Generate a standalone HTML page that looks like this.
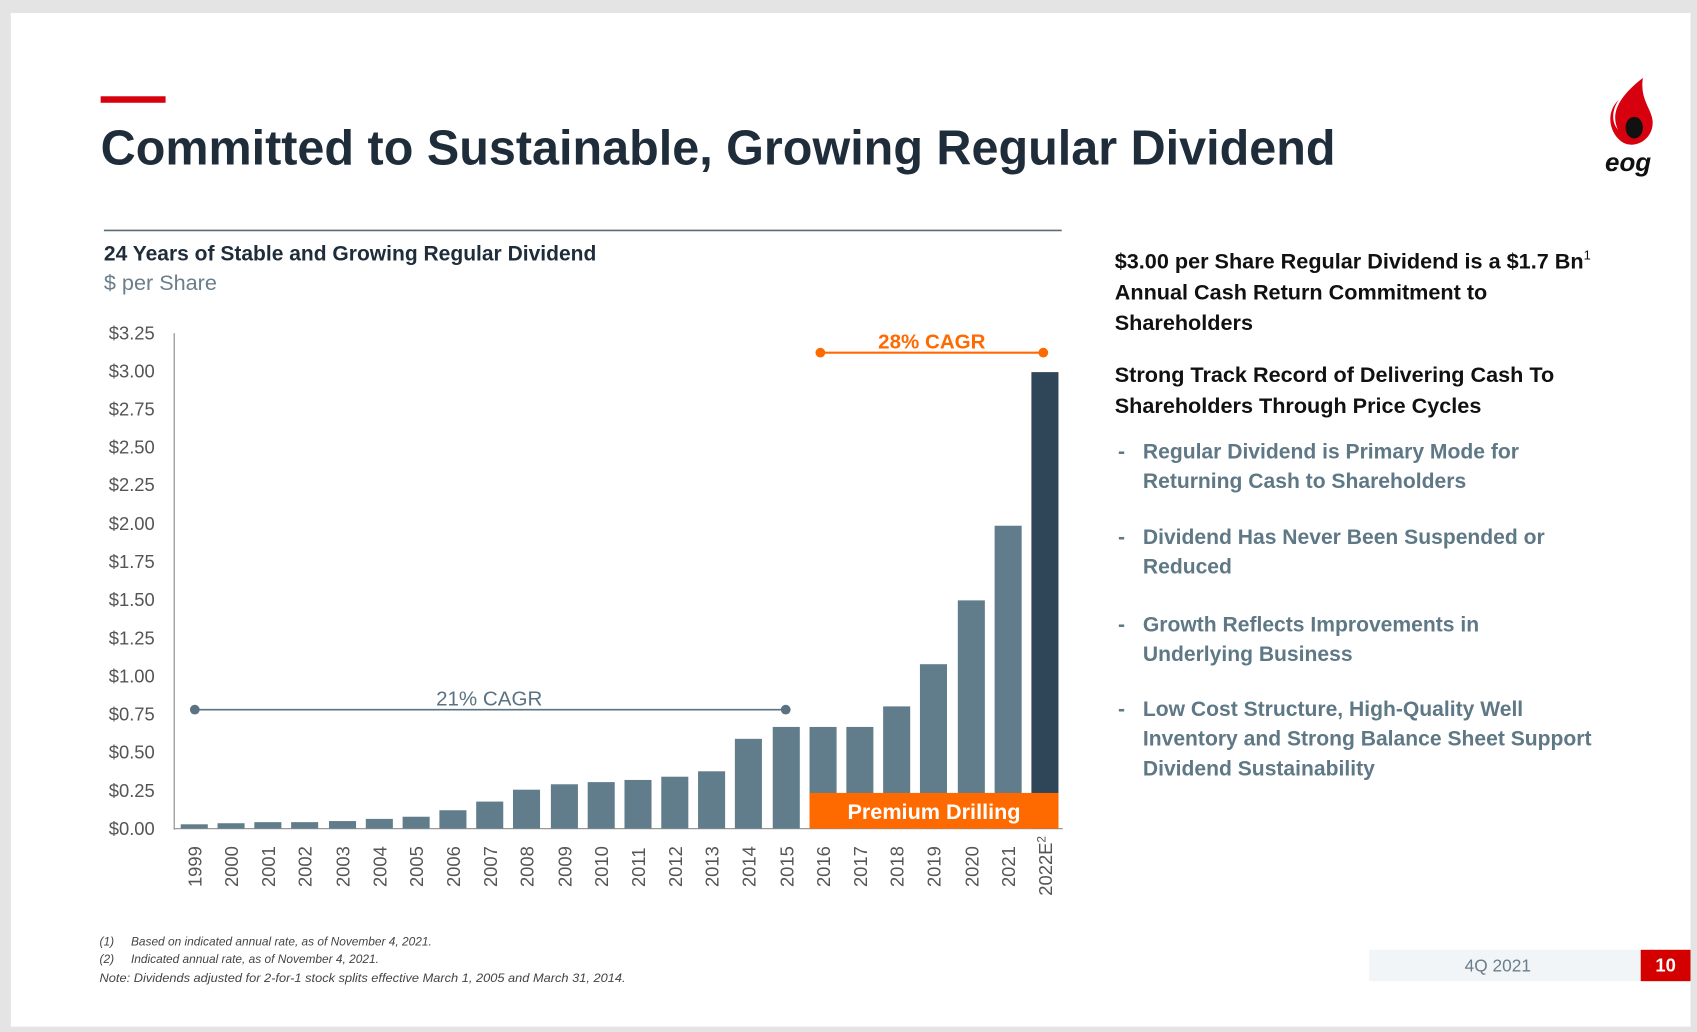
<!DOCTYPE html>
<html><head><meta charset="utf-8"><style>
html,body{margin:0;padding:0;background:#e6e6e6;}
svg{display:block;}
text{font-family:"Liberation Sans",sans-serif;}
</style></head><body>
<svg width="1697" height="1032" viewBox="0 0 1568 954" preserveAspectRatio="none" xmlns="http://www.w3.org/2000/svg">
<rect x="0" y="0" width="1568" height="954" fill="#e4e4e4"/>
<rect x="10" y="12" width="1552" height="937" fill="#fff"/>
<rect x="93" y="89" width="60" height="6" fill="#d7000f"/>
<text x="93" y="152" font-size="45" font-weight="bold" fill="#1f2d3a" textLength="1141" lengthAdjust="spacingAndGlyphs">Committed to Sustainable, Growing Regular Dividend</text>
<path d="M1518 72 C1495 90 1488 105 1495 120 C1488 112 1490 100 1496 92 C1482 105 1488 125 1500 132 C1512 138 1528 128 1527 112 C1526 100 1515 92 1518 72 Z" fill="#d7000f"/>
<ellipse cx="1510" cy="118" rx="8" ry="10" fill="#111"/>
<text x="1483" y="158" font-size="24" font-weight="bold" font-style="italic" fill="#111">eog</text>
<line x1="96" y1="213" x2="981" y2="213" stroke="#5a6b78" stroke-width="1.5"/>
<text x="96" y="241" font-size="20" font-weight="bold" fill="#1f2d3a" textLength="455" lengthAdjust="spacingAndGlyphs">24 Years of Stable and Growing Regular Dividend</text>
<text x="96" y="268" font-size="20" fill="#6b7e8c">$ per Share</text>
<g font-size="17" fill="#555" text-anchor="end">
<text x="143" y="314">$3.25</text><text x="143" y="349">$3.00</text><text x="143" y="384">$2.75</text><text x="143" y="419">$2.50</text><text x="143" y="454">$2.25</text><text x="143" y="490">$2.00</text><text x="143" y="525">$1.75</text><text x="143" y="560">$1.50</text><text x="143" y="596">$1.25</text><text x="143" y="631">$1.00</text><text x="143" y="666">$0.75</text><text x="143" y="701">$0.50</text><text x="143" y="737">$0.25</text><text x="143" y="772">$0.00</text>
</g>
<line x1="161" y1="308" x2="161" y2="767" stroke="#999" stroke-width="1.2"/>
<line x1="161" y1="766" x2="982" y2="766" stroke="#999" stroke-width="1.2"/>
<g fill="#617d8b">
<rect x="167" y="762" width="25" height="4"/>
<rect x="201" y="761" width="25" height="5"/>
<rect x="235" y="760" width="25" height="6"/>
<rect x="269" y="760" width="25" height="6"/>
<rect x="304" y="759" width="25" height="7"/>
<rect x="338" y="757" width="25" height="9"/>
<rect x="372" y="755" width="25" height="11"/>
<rect x="406" y="749" width="25" height="17"/>
<rect x="440" y="741" width="25" height="25"/>
<rect x="474" y="730" width="25" height="36"/>
<rect x="509" y="725" width="25" height="41"/>
<rect x="543" y="723" width="25" height="43"/>
<rect x="577" y="721" width="25" height="45"/>
<rect x="611" y="718" width="25" height="48"/>
<rect x="645" y="713" width="25" height="53"/>
<rect x="679" y="683" width="25" height="83"/>
<rect x="714" y="672" width="25" height="94"/>
<rect x="748" y="672" width="25" height="94"/>
<rect x="782" y="672" width="25" height="94"/>
<rect x="816" y="653" width="25" height="113"/>
<rect x="850" y="614" width="25" height="152"/>
<rect x="885" y="555" width="25" height="211"/>
<rect x="919" y="486" width="25" height="280"/>
</g>
<rect x="953" y="344" width="25" height="422" fill="#2f4659"/>
<rect x="748" y="733" width="230" height="33" fill="#ff6a00"/>
<text x="863" y="757" font-size="20" font-weight="bold" fill="#fff" text-anchor="middle">Premium Drilling</text>
<line x1="180" y1="656" x2="726" y2="656" stroke="#5a7281" stroke-width="1.5"/>
<circle cx="180" cy="656" r="4.5" fill="#5a7281"/><circle cx="726" cy="656" r="4.5" fill="#5a7281"/>
<text x="452" y="652" font-size="19" fill="#5a7281" text-anchor="middle">21% CAGR</text>
<line x1="758" y1="326" x2="964" y2="326" stroke="#ff6a00" stroke-width="2"/>
<circle cx="758" cy="326" r="4.5" fill="#ff6a00"/><circle cx="964" cy="326" r="4.5" fill="#ff6a00"/>
<text x="861" y="322" font-size="19" font-weight="bold" fill="#ff6a00" text-anchor="middle">28% CAGR</text>
<g font-size="17" fill="#555">
<text transform="translate(186,820) rotate(-90)">1999</text>
<text transform="translate(220,820) rotate(-90)">2000</text>
<text transform="translate(254,820) rotate(-90)">2001</text>
<text transform="translate(288,820) rotate(-90)">2002</text>
<text transform="translate(323,820) rotate(-90)">2003</text>
<text transform="translate(357,820) rotate(-90)">2004</text>
<text transform="translate(391,820) rotate(-90)">2005</text>
<text transform="translate(425,820) rotate(-90)">2006</text>
<text transform="translate(459,820) rotate(-90)">2007</text>
<text transform="translate(493,820) rotate(-90)">2008</text>
<text transform="translate(528,820) rotate(-90)">2009</text>
<text transform="translate(562,820) rotate(-90)">2010</text>
<text transform="translate(596,820) rotate(-90)">2011</text>
<text transform="translate(630,820) rotate(-90)">2012</text>
<text transform="translate(664,820) rotate(-90)">2013</text>
<text transform="translate(698,820) rotate(-90)">2014</text>
<text transform="translate(733,820) rotate(-90)">2015</text>
<text transform="translate(767,820) rotate(-90)">2016</text>
<text transform="translate(801,820) rotate(-90)">2017</text>
<text transform="translate(835,820) rotate(-90)">2018</text>
<text transform="translate(869,820) rotate(-90)">2019</text>
<text transform="translate(904,820) rotate(-90)">2020</text>
<text transform="translate(938,820) rotate(-90)">2021</text>
<text transform="translate(972,828) rotate(-90)">2022E<tspan font-size="11" dy="-6">2</tspan></text>
</g>
<g font-size="11" font-style="italic" fill="#444">
<text x="92" y="874">(1)</text><text x="121" y="874">Based on indicated annual rate, as of November 4, 2021.</text>
<text x="92" y="890">(2)</text><text x="121" y="890">Indicated annual rate, as of November 4, 2021.</text>
<text x="92" y="908" textLength="486" lengthAdjust="spacingAndGlyphs">Note: Dividends adjusted for 2-for-1 stock splits effective March 1, 2005 and March 31, 2014.</text>
</g>
<g font-size="20" font-weight="bold" fill="#111">
<text x="1030" y="248">$3.00 per Share Regular Dividend is a $1.7 Bn<tspan font-size="12" dy="-8" font-weight="normal">1</tspan></text>
<text x="1030" y="277">Annual Cash Return Commitment to</text>
<text x="1030" y="305">Shareholders</text>
<text x="1030" y="353">Strong Track Record of Delivering Cash To</text>
<text x="1030" y="382">Shareholders Through Price Cycles</text>
</g>
<g font-size="19.5" font-weight="bold" fill="#5f7886">
<text x="1033" y="424">-</text><text x="1056" y="424">Regular Dividend is Primary Mode for</text>
<text x="1056" y="451">Returning Cash to Shareholders</text>
<text x="1033" y="503">-</text><text x="1056" y="503">Dividend Has Never Been Suspended or</text>
<text x="1056" y="530">Reduced</text>
<text x="1033" y="584">-</text><text x="1056" y="584">Growth Reflects Improvements in</text>
<text x="1056" y="611">Underlying Business</text>
<text x="1033" y="662">-</text><text x="1056" y="662">Low Cost Structure, High-Quality Well</text>
<text x="1056" y="689">Inventory and Strong Balance Sheet Support</text>
<text x="1056" y="717">Dividend Sustainability</text>
</g>
<rect x="1265" y="878" width="251" height="29" fill="#f2f5f7"/>
<text x="1384" y="898" font-size="16" fill="#6b7e8c" text-anchor="middle">4Q 2021</text>
<rect x="1516" y="878" width="46" height="29" fill="#d40000"/>
<text x="1539" y="898" font-size="17" font-weight="bold" fill="#fff" text-anchor="middle">10</text>
</svg>
</body></html>
